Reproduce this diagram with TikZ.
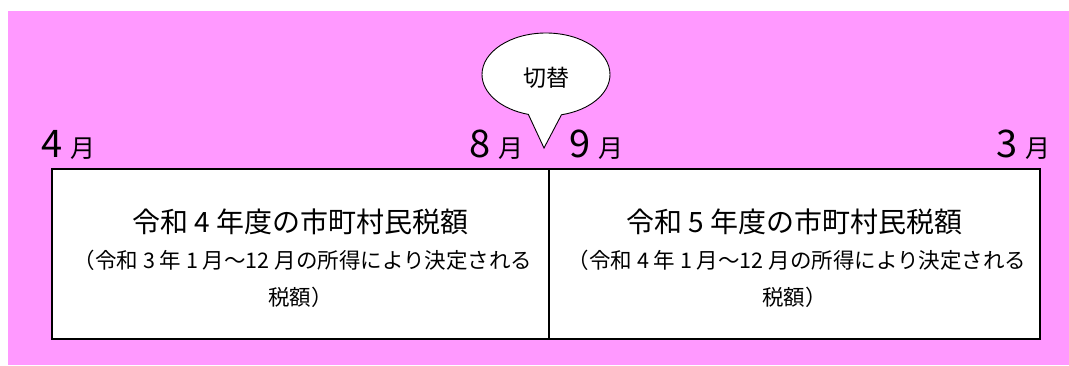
\documentclass[tikz,border=0pt]{standalone}
\usepackage{fontspec}
\setmainfont{Noto Sans CJK JP}
\usetikzlibrary{shapes.callouts}
\definecolor{bgpink}{HTML}{FF99FF}

\newcommand{\tsuki}[1]{{\fontsize{38}{38}\selectfont #1}\hspace{8pt}{\fontsize{25}{25}\selectfont 月}}

\begin{document}
\begin{tikzpicture}[x=1pt, y=-1pt,
    taxbox/.style={draw, line width=1.8pt, fill=white, minimum height=170pt, inner sep=0pt},
    monthlbl/.style={inner sep=0pt},
    titletxt/.style={inner sep=0pt, font=\fontsize{28}{28}\selectfont},
    subtxt/.style={inner sep=0pt, font=\fontsize{21.5}{21.5}\selectfont}]
    % background
    \useasboundingbox (0,0) rectangle (1069,365);
    \fill[bgpink] (8,11) rectangle (1069,365);

    % two boxes
    \node[taxbox, minimum width=497pt] (r4) at (300.5,254) {};
    \node[taxbox, minimum width=491pt] (r5) at (794.5,254) {};

    % texts in the boxes
    \node[titletxt] (r4title) at (300.5,222) {令和 4 年度の市町村民税額};
    \node[subtxt] (r4sub) at (303,260) {（令和 3 年 1 月～12 月の所得により決定される};
    \node[subtxt] (r4end) at (300.5,297) {税額）};
    \node[titletxt] (r5title) at (794.5,222) {令和 5 年度の市町村民税額};
    \node[subtxt] (r5sub) at (797,260) {（令和 4 年 1 月～12 月の所得により決定される};
    \node[subtxt] (r5end) at (794.5,297) {税額）};

    % months
    \node[monthlbl, anchor=base west] (apr) at (41,157) {\tsuki{4}};
    \node[monthlbl, anchor=base east] (aug) at (524,157) {\tsuki{8}};
    \node[monthlbl, anchor=base west] (sep) at (569,157) {\tsuki{9}};
    \node[monthlbl, anchor=base east] (mar) at (1051,157) {\tsuki{3}};

    % callout
    \node[ellipse callout, draw, fill=white, line width=0.9pt,
        minimum width=128pt, minimum height=83pt, inner sep=0pt,
        callout absolute pointer={(544,148)}, callout pointer arc=30] (switch) at (546,74.5) {};
    \node[inner sep=0pt, font=\fontsize{23}{23}\selectfont] (switchtxt) at (546,78) {切替};
\end{tikzpicture}
\end{document}
